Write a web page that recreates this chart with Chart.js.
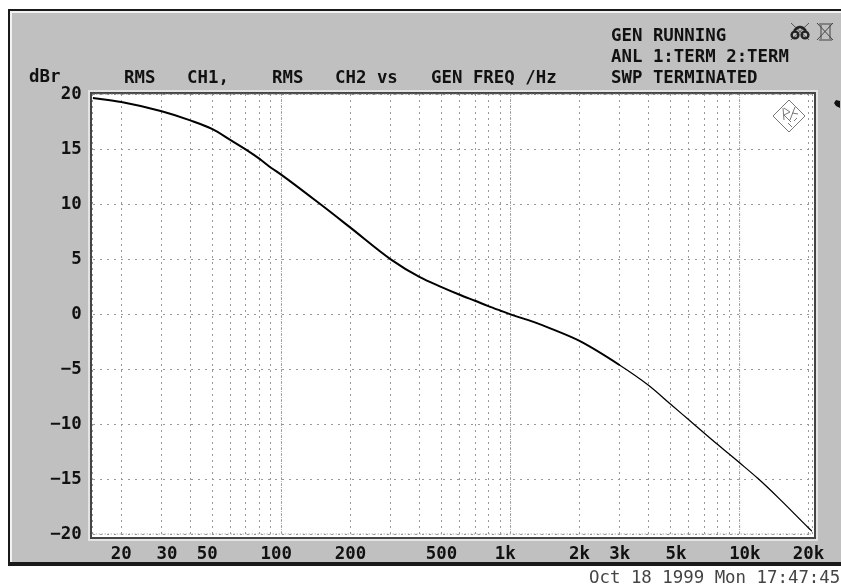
<!DOCTYPE html>
<html>
<head>
<meta charset="utf-8">
<title>dBr vs GEN FREQ</title>
<script src="https://cdn.jsdelivr.net/npm/chart.js@4"></script>
<style>
  html, body { margin: 0; padding: 0; background: #fff; }
  #page { position: relative; width: 841px; height: 587px; overflow: hidden; }
  #panel { position: absolute; left: 8px; top: 9px; width: 840px; height: 551px; background: #c0c0c0;
           border: 2px solid #1a1a1a; border-bottom-width: 4px; border-right: 0; box-shadow: inset 2px 2px 0 #f2f2f2; }
  #plot { position: absolute; left: 90px; top: 92px; width: 722px; height: 443px; background: #fff;
          border: 2px solid #444; outline: 2px solid #e4e4e4; }
  canvas { position: absolute; left: 0; top: 0; }
  .t { position: absolute; font: bold 17.4px "DejaVu Sans Mono", monospace; color: #111; white-space: pre; line-height: 20px; }
  .stamp { font-weight: normal; color: #444; }
  svg { position: absolute; left: 0; top: 0; }
</style>
</head>
<body>
<div id="page">
  <div id="panel"></div>
  <div id="plot"></div>
  <canvas id="sweep" width="841" height="587"></canvas>

  <span class="t" style="left:29px;top:66px">dBr</span>
  <span class="t" style="left:124px;top:67px">RMS</span>
  <span class="t" style="left:187px;top:67px">CH1,</span>
  <span class="t" style="left:272px;top:67px">RMS</span>
  <span class="t" style="left:335px;top:67px">CH2 vs</span>
  <span class="t" style="left:431px;top:67px">GEN FREQ /Hz</span>
  <span class="t" style="left:611px;top:25px">GEN RUNNING</span>
  <span class="t" style="left:611px;top:46px">ANL 1:TERM 2:TERM</span>
  <span class="t" style="left:611px;top:67px">SWP TERMINATED</span>
  <span class="t stamp" style="left:589px;top:567px">Oct 18 1999 Mon 17:47:45</span>

  <svg width="841" height="587" fill="none" stroke="#222" stroke-width="1">
    <!-- status icons -->
    <path d="M791 23l18 17M809 23l-18 17" stroke="#555"/>
    <circle cx="795" cy="35" r="3.4" stroke-width="2.4"/>
    <circle cx="805" cy="35" r="3.4" stroke-width="2.4"/>
    <path d="M794 31q6-8 12 0" stroke-width="2.4"/>
    <path d="M819 24h13M819 40h13M821 25v14M830 25v14M817 23l16 17M833 23l-16 17" stroke="#444"/>
    <path d="M836 100l4 1v7l-4-2l-2-3z" fill="#111" stroke="none"/>
    <!-- logo -->
    <path d="M789 100l16 16-16 16-16-16z" stroke="#777"/>
    <path d="M783 108l1 12M784 108l6 4-6 3 7 7M795 107l-5 13M792 113l6 1M788 123l4 4M797 118l-3 3" stroke="#777"/>
  </svg>
</div>

<script>
const freq = [15, 20, 30, 40, 50, 60, 70, 80, 90, 100, 150, 200, 300, 400, 500, 600, 700, 800, 900,
              1000, 1260, 1500, 2000, 3000, 4000, 5000, 6000, 7000, 8000, 9000, 10000, 12000, 15000, 20000, 20700];
const level = [19.64, 19.27, 18.43, 17.6, 16.8, 15.8, 14.95, 14.13, 13.3, 12.65, 9.88, 7.85, 4.97, 3.37, 2.45, 1.75, 1.2, 0.72, 0.32,
               -0.03, -0.72, -1.33, -2.45, -4.66, -6.48, -8.2, -9.62, -10.82, -11.85, -12.73, -13.53, -14.94, -16.85, -19.45, -19.75];

const xGrid = [15, 20, 30, 40, 50, 60, 70, 80, 90, 100, 200, 300, 400, 500, 600, 700, 800, 900,
               1000, 2000, 3000, 4000, 5000, 6000, 7000, 8000, 9000, 10000, 20000, 20700];
// the analyser prints its labels on a fixed text grid, so some sit a half cell off their line
const xLabels = { 20: '20', 30: ' 30', 50: '50 ', 100: '100 ', 200: '200', 500: '500',
                  1000: '1k ', 2000: '2k', 3000: '3k', 5000: ' 5k', 10000: ' 10k', 20000: '20k' };
const yTicks = [20, 15, 10, 5, 0, -5, -10, -15, -20];
const decades = [100, 1000, 10000];

const xMin = 15, xMax = 20700, yMin = -20, yMax = 20;

function guide(a, b, dash, color) {
  return {
    data: [a, b], borderColor: color, borderWidth: 1, borderDash: dash,
    pointRadius: 0, clip: false, order: 2
  };
}

const curve = {
  data: freq.map((f, i) => ({ x: f, y: level[i] })),
  borderColor: '#000',
  borderWidth: 2,
  cubicInterpolationMode: 'monotone',
  pointRadius: 0,
  order: 1,
  segment: {
    borderWidth: ctx => ctx.p0.parsed.x >= 3000 ? 1.3 : 2
  }
};

const guides = decades.map(f => guide({ x: f, y: yMin }, { x: f, y: yMax }, [1, 1], '#aaa'));
guides.push(guide({ x: xMin, y: yMax }, { x: xMax, y: yMax }, [2, 1], '#777'));
guides.push(guide({ x: xMin, y: yMin }, { x: xMax, y: yMin }, [1, 2], '#888'));

const tickFont = { family: "'DejaVu Sans Mono', monospace", size: 17.4, weight: 'bold' };

new Chart(document.getElementById('sweep'), {
  type: 'line',
  data: { datasets: [curve].concat(guides) },
  options: {
    responsive: false,
    animation: false,
    events: [],
    layout: { padding: { left: 0, top: 94, right: 29, bottom: 0 } },
    plugins: { legend: { display: false }, tooltip: { enabled: false } },
    scales: {
      x: {
        type: 'logarithmic',
        min: xMin,
        max: xMax,
        afterFit: s => { s.height = 53; },
        afterBuildTicks: s => { s.ticks = xGrid.map(v => ({ value: v })); },
        border: { display: false, dash: [2, 4] },
        grid: { color: '#999', drawTicks: false },
        ticks: {
          color: '#111', font: tickFont, padding: 10,
          autoSkip: false, maxRotation: 0,
          callback: v => xLabels[v] || ''
        }
      },
      y: {
        min: yMin,
        max: yMax,
        afterFit: s => { s.width = 92.7; },
        afterBuildTicks: s => { s.ticks = yTicks.map(v => ({ value: v })); },
        border: { display: false, dash: [2, 5] },
        grid: { color: '#999', drawTicks: false },
        ticks: {
          color: '#111', font: tickFont, padding: 11,
          callback: v => String(v).replace('-', '\u2212')
        }
      }
    }
  }
});
</script>
</body>
</html>
